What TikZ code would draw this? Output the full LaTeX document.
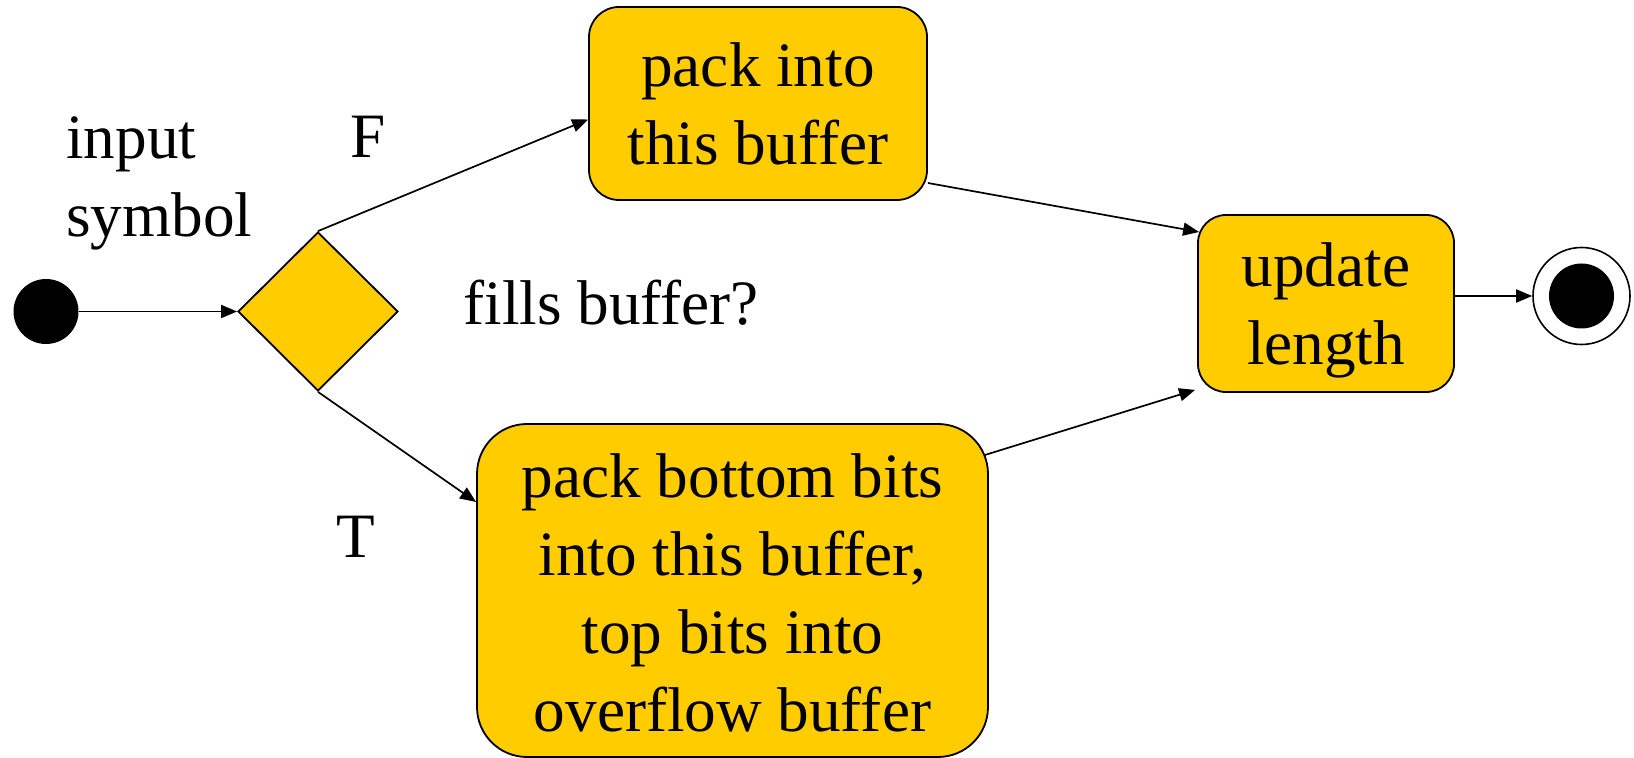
\documentclass[tikz,border=0pt]{standalone}
\usepackage{fontspec}
\setmainfont{Liberation Serif}
\usetikzlibrary{shapes.geometric,arrows.meta,calc}
\definecolor{boxyellow}{HTML}{FFCC00}
\begin{document}
\begin{tikzpicture}[x=0.5pt,y=-0.5pt,
  txt/.style={font=\fontsize{31.6pt}{39pt}\selectfont, inner sep=0pt, align=center},
  actbox/.style={draw=black, line width=0.9pt, fill=boxyellow, rounded corners=#1, inner sep=0pt},
  conn/.style={draw=black, line width=0.85pt, -{Triangle[length=8pt,width=6.5pt]}},
  dot/.style={circle, fill=black, inner sep=0pt, minimum size=32.5pt}]
\useasboundingbox (0,0) rectangle (1634,758);
% shapes
\node[dot] (start) at (46,311.5) {};
\node[diamond, draw=black, line width=0.9pt, fill=boxyellow, inner sep=0pt,
      minimum width=80pt, minimum height=79.5pt] (dia) at (318,311.5) {};
\node[actbox=15pt, minimum width=169pt, minimum height=96.5pt] (pack) at (758,103.5) {};
\node[actbox=14pt, minimum width=128pt, minimum height=88.5pt] (upd) at (1326,303.5) {};
\node[actbox=25pt, minimum width=255.5pt, minimum height=166.5pt] (big) at (732.5,590.5) {};
\node[circle, draw=black, line width=0.8pt, fill=white, inner sep=0pt, minimum size=48.5pt] (endo) at (1581.5,296) {};
\node[dot] (endi) at (endo.center) {};
% texts (anchor=base is the last line's baseline)
\node[txt, anchor=base] (packtxt) at (758,165) {pack into\\this buffer};
\node[txt, anchor=base] (updtxt) at (1326,365) {update\\length};
\node[txt, anchor=base] (bigtxt) at (732.5,732) {pack bottom bits\\into this buffer,\\top bits into\\overflow buffer};
\node[txt, align=left, anchor=base west] (inp) at (66,237) {input\\symbol};
\node[txt, anchor=base] (flab) at (368,158) {F};
\node[txt, anchor=base] (tlab) at (356,558) {T};
\node[txt, anchor=base west] (fills) at (463,325) {fills buffer?};
% connectors
\draw[conn] (start) -- (dia.west);
\draw[conn] (dia.north) -- ($(pack.west)+(0,16)$);
\draw[conn] (dia.south) -- ($(big.west)+(0,-88.5)$);
\draw[conn] ($(pack.east)+(0,79.5)$) -- ($(upd.west)+(2,-71.5)$);
\draw[conn] ($(big.east)+(-4,-135.5)$) -- ($(upd.south west)+(-2,-3)$);
\draw[conn] (upd.east |- endo.center) -- (endo.west);
\end{tikzpicture}
\end{document}
